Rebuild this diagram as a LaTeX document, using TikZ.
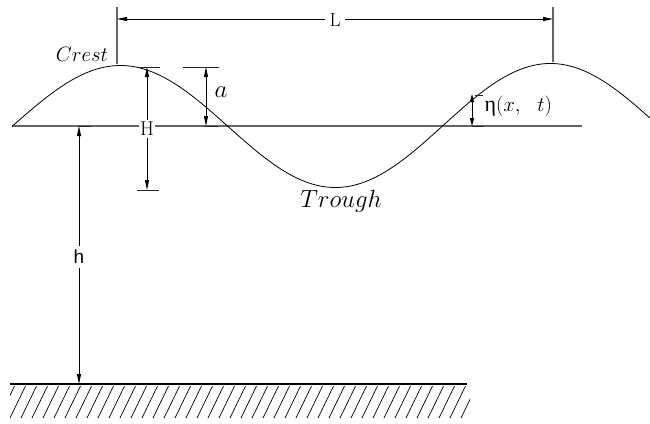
\documentclass[tikz,border=0pt]{standalone}
\usepackage{fontspec}
\newfontfamily\arialf{Liberation Sans}
\newfontfamily\timesf{Liberation Serif}
\usetikzlibrary{arrows.meta}
\begin{document}
\begin{tikzpicture}[x=1pt,y=-1pt,
  dimline/.style={line width=0.9pt,{Triangle[length=10pt,width=4pt]}-{Triangle[length=10pt,width=4pt]}},
  extline/.style={line width=1.3pt,draw=black!60},
  tick/.style={line width=0.9pt,draw=black!85},
  lbl/.style={inner sep=1.5pt,fill=white},
  wave/.style={line width=0.8pt}]
\useasboundingbox (0,0) rectangle (650,423);
% mean water level
\coordinate (m1) at (12,126); \coordinate (m2) at (582,126);
\draw[line width=1.2pt,draw=black!60] (m1) -- (m2);
% wave
\draw[wave] plot[domain=12:650,samples=160] (\x,{126-(60+3*(\x-12)/638)*cos(0.83721*(\x-120))+ (\x>560 ? -0.0012*(\x-560)*(\x-560)/10 : 0)});
% L dimension
\coordinate (l1t) at (117,7); \coordinate (l1b) at (117,64);
\coordinate (l2t) at (553,7); \coordinate (l2b) at (553,62);
\draw[extline] (l1t) -- (l1b);
\draw[extline] (l2t) -- (l2b);
\coordinate (la) at (117,19); \coordinate (lb) at (553,19);
\draw[dimline] (la) -- (lb);
\node[lbl,font=\fontsize{19}{19}\selectfont,inner xsep=5pt] (L) at (335,20) {L};
% Crest / Trough
\node[anchor=base,font=\fontsize{22}{22}\selectfont] (crest) at (82,61) {$Crest$};
\node[anchor=base,font=\fontsize{23}{23}\selectfont] (trough) at (341,207) {$Trough$};
% H dimension
\coordinate (Ht1) at (138,67); \coordinate (Ht2) at (160,67);
\coordinate (Hb1) at (137,190); \coordinate (Hb2) at (159,190);
\draw[tick] (Ht1) -- (Ht2);
\draw[tick] (Hb1) -- (Hb2);
\coordinate (Ha) at (147,67); \coordinate (Hb) at (147,190);
\draw[dimline] (Ha) -- (Hb);
\node[lbl,font=\fontsize{20}{20}\selectfont,inner ysep=2pt] (H) at (147,129) {H};
% a dimension
\coordinate (at1) at (183,67); \coordinate (at2) at (219,67);
\coordinate (ab1) at (205,126); \coordinate (ab2) at (218,126);
\draw[tick] (at1) -- (at2);
\draw[tick] (ab1) -- (ab2);
\coordinate (aa) at (206,67); \coordinate (ab) at (206,126);
\draw[dimline] (aa) -- (ab);
\node[font=\fontsize{25}{25}\selectfont] (alab) at (221,92) {$a$};
% eta dimension
\coordinate (et1) at (475,95); \coordinate (et2) at (483,95);
\coordinate (eb1) at (472,126); \coordinate (eb2) at (484,126);
\draw[tick] (et1) -- (et2);
\draw[tick] (eb1) -- (eb2);
\coordinate (ea) at (472,94); \coordinate (eb) at (472,126);
\draw[line width=0.9pt,{Triangle[length=8pt,width=4pt]}-{Triangle[length=8pt,width=4pt]}] (ea) -- (eb);
\node[anchor=west,font=\fontsize{22}{22}\selectfont] (eta) at (481,106) {{\timesf η}$(x,\ \ t)$};
% h dimension
\coordinate (ht1) at (78,126); \coordinate (ht2) at (91,126);
\draw[tick] (ht1) -- (ht2);
\coordinate (ha) at (79,126); \coordinate (hb) at (79,384);
\draw[dimline] (ha) -- (hb);
\node[lbl,font=\fontsize{19}{19}\selectfont\arialf,inner ysep=4pt] (h) at (79,257) {h};
% ground
\coordinate (g1) at (10,384); \coordinate (g2) at (467,384);
\draw[line width=1.2pt] (g1) -- (g2);
\begin{scope}
\clip (10,386) rectangle (470,418);
\foreach \i in {-2,...,44} {
  \draw[line width=0.7pt] ({10+11*\i},418) -- ({10+11*\i+16},385);
}
\end{scope}
\end{tikzpicture}
\end{document}
